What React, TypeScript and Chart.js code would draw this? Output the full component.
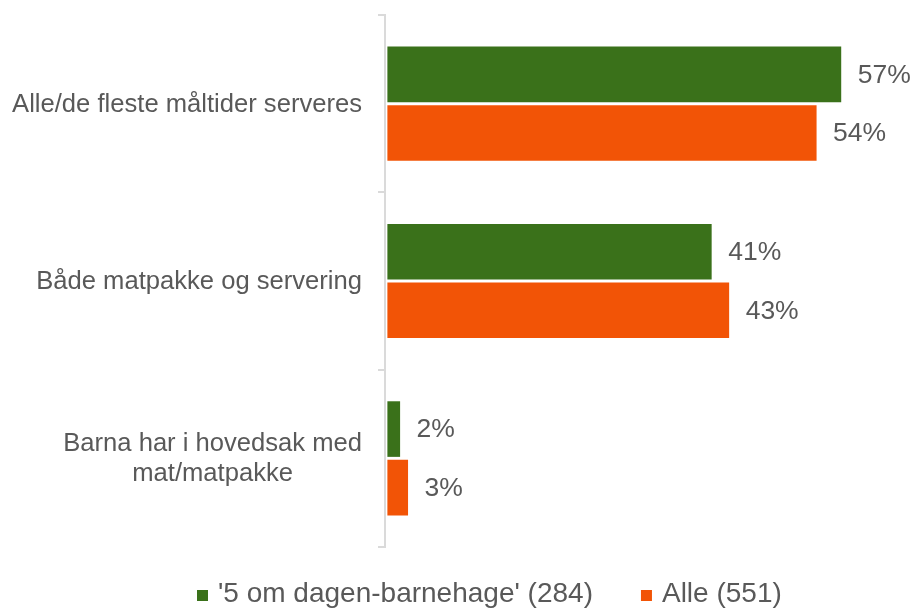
import React, { useEffect, useRef } from 'react';
import { Chart, registerables } from 'chart.js';

Chart.register(...registerables);

const categories: string[][] = [
  ['Alle/de fleste måltider serveres'],
  ['Både matpakke og servering'],
  ['Barna har i hovedsak med', 'mat/matpakke'],
];
const seriesNames = ["'5 om dagen-barnehage' (284)", 'Alle (551)'];
const greenValues = [57.1, 40.8, 1.6];
const orangeValues = [54, 43, 2.6];
const seriesColors = ['#3A711A', '#F25406'];

const FONT = "'Liberation Sans', Arial, Helvetica, sans-serif";
const TEXT_COLOR = '#595959';

const tickLabelPlugin = {
  id: 'centeredTickLabels',
  afterDraw(chart: any) {
    const scale = chart.scales.y;
    const ctx = chart.ctx as CanvasRenderingContext2D;
    ctx.save();
    ctx.font = `25.6px ${FONT}`;
    ctx.fillStyle = TEXT_COLOR;
    ctx.textAlign = 'center';
    ctx.textBaseline = 'middle';
    const right = scale.right - 7 - 16;
    const lineH = 30;
    (chart.data.labels as any[]).forEach((label, i) => {
      const lines: string[] = Array.isArray(label) ? label : [String(label)];
      const w = Math.max(...lines.map((l) => ctx.measureText(l).width));
      const cx = right - w / 2;
      const y = scale.getPixelForTick(i);
      lines.forEach((l, j) => {
        ctx.fillText(l, cx, y + 1 + (j - (lines.length - 1) / 2) * lineH);
      });
    });
    ctx.restore();
  },
};

const valueLabelPlugin = {
  id: 'valueLabels',
  afterDatasetsDraw(chart: any) {
    const ctx = chart.ctx as CanvasRenderingContext2D;
    ctx.save();
    ctx.font = `26.5px ${FONT}`;
    ctx.fillStyle = TEXT_COLOR;
    ctx.textAlign = 'left';
    ctx.textBaseline = 'middle';
    chart.data.datasets.forEach((ds: any, di: number) => {
      const meta = chart.getDatasetMeta(di);
      meta.data.forEach((el: any, i: number) => {
        ctx.fillText(`${Math.round(ds.data[i])}%`, el.x + 16.5, el.y + 1);
      });
    });
    ctx.restore();
  },
};

const legendPlugin = {
  id: 'bottomLegend',
  afterDraw(chart: any) {
    const ctx = chart.ctx as CanvasRenderingContext2D;
    ctx.save();
    ctx.font = `28px ${FONT}`;
    ctx.textBaseline = 'alphabetic';
    ctx.textAlign = 'left';
    const box = 11;
    const gap = 10;
    const spacing = 48;
    const baseline = 601.5;
    let x = 197;
    chart.data.datasets.forEach((ds: any) => {
      ctx.fillStyle = ds.backgroundColor;
      ctx.fillRect(x, 590, box, box);
      ctx.fillStyle = TEXT_COLOR;
      const tx = x + box + gap;
      ctx.fillText(ds.label, tx, baseline);
      x = tx + ctx.measureText(ds.label).width + spacing;
    });
    ctx.restore();
  },
};

export default function App() {
  const ref = useRef<HTMLCanvasElement | null>(null);

  useEffect(() => {
    document.body.style.margin = '0';
    if (!ref.current) return;
    const chart = new Chart(ref.current, {
      type: 'bar',
      data: {
        labels: categories,
        datasets: [
          {
            label: seriesNames[0],
            data: greenValues,
            backgroundColor: seriesColors[0],
            barPercentage: 0.95,
            categoryPercentage: 0.66,
          },
          {
            label: seriesNames[1],
            data: orangeValues,
            backgroundColor: seriesColors[1],
            barPercentage: 0.95,
            categoryPercentage: 0.66,
          },
        ],
      },
      options: {
        indexAxis: 'y',
        responsive: false,
        animation: false,
        devicePixelRatio: 1,
        layout: { padding: { top: 15, left: 12, right: 11, bottom: 64 } },
        plugins: {
          legend: { display: false },
          tooltip: { enabled: false },
        },
        scales: {
          x: {
            display: false,
            min: -0.3,
            max: 65,
          },
          y: {
            type: 'category',
            ticks: { display: false },
            grid: {
              display: true,
              drawOnChartArea: false,
              drawTicks: true,
              tickLength: 7,
              color: '#DADADA',
              lineWidth: 2,
              offset: true,
            },
            border: { display: true, color: '#DADADA', width: 2 },
            afterFit(scale: any) {
              scale.width = 373;
            },
          },
        },
      },
      plugins: [tickLabelPlugin, valueLabelPlugin, legendPlugin],
    });
    return () => chart.destroy();
  }, []);

  return (
    <div style={{ width: 915, height: 611, background: '#fff' }}>
      <canvas ref={ref} width={915} height={611} />
    </div>
  );
}
